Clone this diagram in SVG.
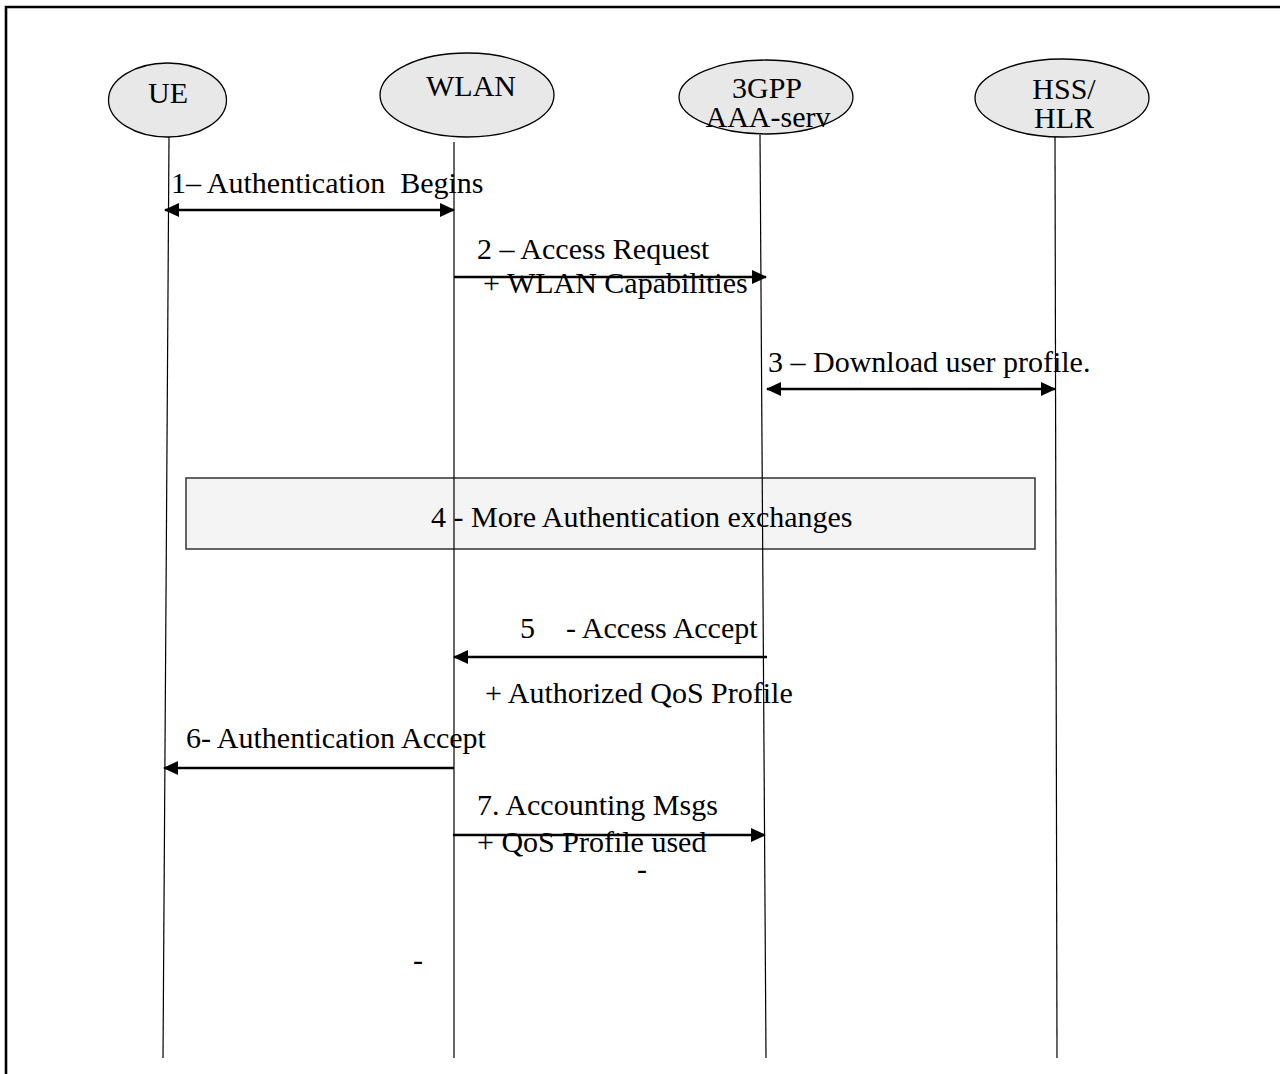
<svg xmlns="http://www.w3.org/2000/svg" width="1280" height="1074" viewBox="0 0 1280 1074">
  <style>
    text { font-family: "Liberation Serif", "Times New Roman", serif; font-size: 30px; fill: #000; white-space: pre; }
    .mid { text-anchor: middle; }
    .node ellipse { fill: #e8e8e8; stroke: #000; stroke-width: 1.3; }
    .life { stroke: #000; stroke-width: 1.2; fill: none; }
    .msg { stroke: #000; stroke-width: 2.6; fill: none; }
    .frame { stroke: #000; stroke-width: 2.6; fill: none; }
  </style>
  <defs>
    <marker id="ah" markerUnits="userSpaceOnUse" markerWidth="15" markerHeight="14" viewBox="0 0 15 14" refX="14" refY="7" orient="auto-start-reverse">
      <path d="M0,0 L15,7 L0,14 z" fill="#000"/>
    </marker>
    <clipPath id="clipAAA">
      <rect x="680" y="106" width="180" height="23"/>
    </clipPath>
  </defs>

  <rect width="1280" height="1074" fill="#fff"/>
  <path class="frame" d="M6,1074 V7 H1280"/>

  <g id="box4">
    <rect x="186" y="478" width="849" height="71" fill="#f4f4f4" stroke="#333" stroke-width="1.5"/>
    <text x="431" y="527">4 - More Authentication exchanges</text>
  </g>

  <g id="lifelines">
    <line class="life" x1="169" y1="137" x2="163" y2="1058"/>
    <line class="life" x1="454" y1="142" x2="454" y2="1058"/>
    <line class="life" x1="760" y1="135" x2="766" y2="1058"/>
    <line class="life" x1="1055" y1="137" x2="1057" y2="1058"/>
  </g>

  <g id="UE" class="node">
    <ellipse cx="167.5" cy="100" rx="59" ry="37"/>
    <text class="mid" x="168" y="103">UE</text>
  </g>
  <g id="WLAN" class="node">
    <ellipse cx="467" cy="95" rx="87" ry="42"/>
    <text class="mid" x="471" y="96">WLAN</text>
  </g>
  <g id="AAA" class="node">
    <ellipse cx="766" cy="97" rx="87" ry="37"/>
    <text class="mid" x="767" y="98">3GPP</text>
    <text class="mid" x="768" y="127" clip-path="url(#clipAAA)">AAA-serv</text>
  </g>
  <g id="HSS" class="node">
    <ellipse cx="1062" cy="98" rx="87" ry="39"/>
    <text class="mid" x="1064" y="99">HSS/</text>
    <text class="mid" x="1064" y="128">HLR</text>
  </g>

  <g id="connectors">
    <line class="msg" x1="165" y1="210" x2="454" y2="210" marker-start="url(#ah)" marker-end="url(#ah)"/>
    <line class="msg" x1="454" y1="277" x2="766" y2="277" marker-end="url(#ah)"/>
    <line class="msg" x1="767" y1="389" x2="1055" y2="389" marker-start="url(#ah)" marker-end="url(#ah)"/>
    <line class="msg" x1="767" y1="657" x2="454" y2="657" marker-end="url(#ah)"/>
    <line class="msg" x1="454" y1="768" x2="164" y2="768" marker-end="url(#ah)"/>
    <line class="msg" x1="453" y1="835" x2="765" y2="835" marker-end="url(#ah)"/>
  </g>

  <g id="labels">
    <text x="171" y="193">1– Authentication  Begins</text>
    <text x="477" y="259">2 – Access Request</text>
    <text x="483" y="293">+ WLAN Capabilities</text>
    <text x="768" y="372">3 – Download user profile.</text>
    <text y="638"><tspan x="520">5</tspan><tspan x="566">- Access Accept</tspan></text>
    <text x="485" y="703">+ Authorized QoS Profile</text>
    <text x="186" y="748">6- Authentication Accept</text>
    <text x="477" y="815">7. Accounting Msgs</text>
    <text x="477" y="852">+ QoS Profile used</text>
    <text x="637" y="879">-</text>
    <text x="413" y="970">-</text>
  </g>
</svg>
